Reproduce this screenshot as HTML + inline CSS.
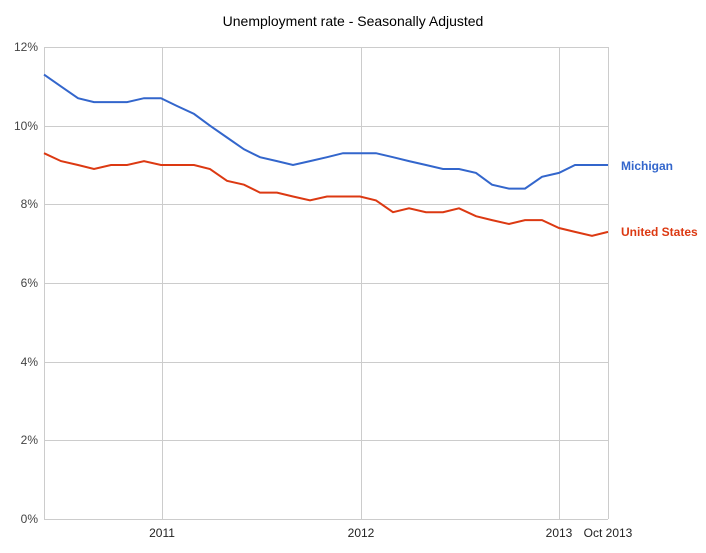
<!DOCTYPE html>
<html><head><style>
body{margin:0;background:#fff;}
svg text{font-family:"Liberation Sans",Arial,sans-serif;}
</style></head><body>
<svg width="706" height="548" viewBox="0 0 706 548" xmlns="http://www.w3.org/2000/svg">
<rect width="706" height="548" fill="#fff"/>
<text x="353" y="26" text-anchor="middle" font-size="14" fill="#000">Unemployment rate - Seasonally Adjusted</text>
<g stroke="#ccc" stroke-width="1">
<line x1="44" y1="47.5" x2="608" y2="47.5"/>
<line x1="44" y1="126.5" x2="608" y2="126.5"/>
<line x1="44" y1="204.5" x2="608" y2="204.5"/>
<line x1="44" y1="283.5" x2="608" y2="283.5"/>
<line x1="44" y1="362.5" x2="608" y2="362.5"/>
<line x1="44" y1="440.5" x2="608" y2="440.5"/>
<line x1="44" y1="519.5" x2="608" y2="519.5"/>
<line x1="162.5" y1="47" x2="162.5" y2="519"/>
<line x1="361.5" y1="47" x2="361.5" y2="519"/>
<line x1="559.5" y1="47" x2="559.5" y2="519"/>
<line x1="608.5" y1="47" x2="608.5" y2="519"/>
<line x1="44.5" y1="47" x2="44.5" y2="519"/>
</g>
<g font-size="12" fill="#444" text-anchor="end">
<text x="38" y="51">12%</text>
<text x="38" y="130">10%</text>
<text x="38" y="208">8%</text>
<text x="38" y="287">6%</text>
<text x="38" y="366">4%</text>
<text x="38" y="444">2%</text>
<text x="38" y="523">0%</text>
</g>
<g font-size="12" fill="#222" text-anchor="middle">
<text x="162" y="537">2011</text>
<text x="361" y="537">2012</text>
<text x="559" y="537">2013</text>
<text x="608" y="537">Oct 2013</text>
</g>
<polyline fill="none" stroke="#3366cc" stroke-width="2" points="44,74.6 61,86.4 78,98.2 94,102.1 111,102.1 127,102.1 144,98.2 161,98.2 177,106.0 194,113.9 210,125.7 227,137.5 244,149.3 260,157.2 277,161.1 293,165.0 310,161.1 327,157.2 343,153.2 360,153.2 376,153.2 393,157.2 409,161.1 426,165.0 443,169.0 459,169.0 476,172.9 492,184.7 509,188.6 525,188.6 542,176.8 559,172.9 575,165.0 592,165.0 608,165.0"/>
<polyline fill="none" stroke="#dc3912" stroke-width="2" points="44,153.2 61,161.1 78,165.0 94,169.0 111,165.0 127,165.0 144,161.1 161,165.0 177,165.0 194,165.0 210,169.0 227,180.8 244,184.7 260,192.6 277,192.6 293,196.5 310,200.4 327,196.5 343,196.5 360,196.5 376,200.4 393,212.2 409,208.3 426,212.2 443,212.2 459,208.3 476,216.2 492,220.1 509,224.0 525,220.1 542,220.1 559,228.0 575,231.9 592,235.8 608,231.9"/>
<text x="621" y="170" font-size="12" font-weight="bold" fill="#3366cc">Michigan</text>
<text x="621" y="236" font-size="12" font-weight="bold" fill="#dc3912">United States</text>
</svg>
</body></html>
